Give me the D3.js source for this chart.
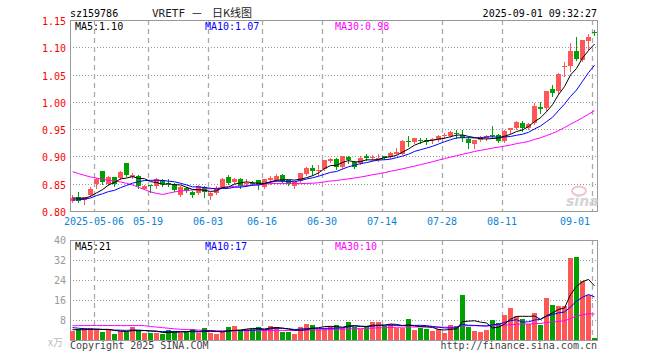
<!DOCTYPE html>
<html><head><meta charset="utf-8">
<script src="https://cdn.jsdelivr.net/npm/d3@7"></script>
<style>
body{margin:0;background:#fff}
svg{display:block}
text{font-family:"DejaVu Sans Mono",monospace;font-size:10px}
</style>
</head><body>
<svg id="c" width="660" height="360"></svg>
<script>
// ---------------- data ----------------
const dates = [
"2025-04-25","2025-04-28","2025-04-29","2025-04-30",
"2025-05-06","2025-05-07","2025-05-08","2025-05-09","2025-05-12","2025-05-13","2025-05-14","2025-05-15","2025-05-16",
"2025-05-19","2025-05-20","2025-05-21","2025-05-22","2025-05-23","2025-05-26","2025-05-27","2025-05-28","2025-05-29","2025-05-30",
"2025-06-03","2025-06-04","2025-06-05","2025-06-06","2025-06-09","2025-06-10","2025-06-11","2025-06-12","2025-06-13",
"2025-06-16","2025-06-17","2025-06-18","2025-06-19","2025-06-20","2025-06-23","2025-06-24","2025-06-25","2025-06-26","2025-06-27",
"2025-06-30","2025-07-01","2025-07-02","2025-07-03","2025-07-04","2025-07-07","2025-07-08","2025-07-09","2025-07-10","2025-07-11",
"2025-07-14","2025-07-15","2025-07-16","2025-07-17","2025-07-18","2025-07-21","2025-07-22","2025-07-23","2025-07-24","2025-07-25",
"2025-07-28","2025-07-29","2025-07-30","2025-07-31","2025-08-01","2025-08-04","2025-08-05","2025-08-06","2025-08-07","2025-08-08",
"2025-08-11","2025-08-12","2025-08-13","2025-08-14","2025-08-15","2025-08-18","2025-08-19","2025-08-20","2025-08-21","2025-08-22",
"2025-08-25","2025-08-26","2025-08-27","2025-08-28","2025-08-29","2025-09-01"];

const open = [0.819,0.825,0.820,0.830,0.850,0.874,0.850,0.862,0.860,0.888,0.863,0.865,0.841,0.847,0.846,0.857,0.852,0.850,0.830,0.843,0.835,0.833,0.844,0.827,0.833,0.843,0.862,0.853,0.859,0.850,0.852,0.856,0.844,0.857,0.857,0.866,0.856,0.846,0.855,0.868,0.878,0.873,0.877,0.891,0.896,0.881,0.899,0.890,0.888,0.900,0.897,0.896,0.900,0.899,0.905,0.905,0.929,0.926,0.930,0.930,0.930,0.930,0.937,0.937,0.943,0.939,0.932,0.923,0.931,0.933,0.940,0.940,0.928,0.948,0.953,0.962,0.952,0.961,0.990,0.988,1.023,1.019,1.063,1.065,1.093,1.077,1.111,1.128];
const high = [0.830,0.834,0.826,0.844,0.860,0.874,0.865,0.862,0.873,0.888,0.869,0.866,0.848,0.848,0.860,0.858,0.858,0.851,0.846,0.844,0.836,0.848,0.846,0.835,0.845,0.860,0.866,0.861,0.860,0.858,0.855,0.857,0.859,0.865,0.867,0.867,0.857,0.854,0.870,0.880,0.885,0.885,0.894,0.898,0.897,0.901,0.900,0.891,0.900,0.905,0.902,0.904,0.901,0.908,0.915,0.930,0.938,0.934,0.934,0.934,0.934,0.939,0.943,0.946,0.949,0.949,0.936,0.931,0.937,0.939,0.955,0.941,0.948,0.953,0.965,0.965,0.961,0.998,0.999,1.020,1.030,1.052,1.073,1.108,1.119,1.114,1.125,1.131];
const low = [0.817,0.816,0.813,0.828,0.843,0.850,0.848,0.845,0.858,0.865,0.860,0.843,0.840,0.835,0.843,0.846,0.846,0.836,0.828,0.834,0.826,0.831,0.826,0.822,0.831,0.842,0.850,0.851,0.842,0.846,0.848,0.841,0.842,0.850,0.855,0.853,0.848,0.842,0.853,0.866,0.866,0.866,0.875,0.889,0.877,0.879,0.888,0.878,0.886,0.894,0.893,0.891,0.896,0.898,0.904,0.904,0.920,0.924,0.924,0.923,0.925,0.929,0.933,0.935,0.934,0.928,0.916,0.915,0.928,0.931,0.933,0.926,0.926,0.943,0.951,0.946,0.950,0.960,0.980,0.983,1.010,1.015,1.047,1.056,1.076,1.074,1.096,1.122];
const close = [0.824,0.819,0.825,0.840,0.858,0.853,0.862,0.849,0.872,0.866,0.866,0.846,0.846,0.845,0.858,0.849,0.850,0.838,0.844,0.837,0.829,0.846,0.834,0.833,0.843,0.859,0.852,0.859,0.845,0.852,0.851,0.847,0.858,0.860,0.865,0.855,0.850,0.853,0.869,0.878,0.873,0.876,0.893,0.896,0.880,0.900,0.893,0.881,0.898,0.897,0.899,0.897,0.898,0.907,0.908,0.929,0.926,0.933,0.929,0.927,0.932,0.938,0.940,0.944,0.941,0.934,0.924,0.930,0.934,0.938,0.938,0.928,0.947,0.952,0.963,0.953,0.959,0.992,0.987,1.019,1.017,1.051,1.066,1.093,1.079,1.113,1.119,1.126];
const volume = [3.6,4.4,4.7,4.7,4.3,3.2,4.4,2.4,3.6,3.2,5.2,4.0,2.9,2.8,2.9,2.4,3.9,3.6,2.8,3.6,4.4,2.8,4.8,2.8,2.5,3.2,5.2,5.6,3.5,4.3,4.5,5.2,4.5,5.6,5.2,3.3,3.3,2.5,5.2,6.4,6.0,4.4,4.9,5.6,6.0,4.7,7.2,5.3,4.3,5.6,7.2,7.2,5.6,6.3,4.9,4.7,8.4,4.0,4.9,4.4,3.6,4.3,2.8,6.0,5.6,18.0,5.3,3.6,3.2,4.0,8.0,6.7,10.0,12.8,9.6,8.4,6.4,10.8,6.0,16.8,14.0,13.6,13.6,32.8,33.2,23.5,18.0,0.8];

// closes / volumes of the 29 sessions before the window (estimated, only used by the moving averages)
const priorCloses = [0.920,0.925,0.925,0.920,0.925,0.915,0.895,0.915,0.945,0.950,0.975,0.975,0.970,0.940,0.910,0.780,0.770,0.790,0.805,0.810,0.812,0.815,0.818,0.815,0.820,0.822,0.825,0.823,0.826];
const priorVolumes = [3.5,4.0,3.8,3.6,4.2,3.9,3.5,4.0,3.7,4.1,3.6,3.9,14,9,9,12,10,8,7,7,7,6.5,6,5,4.5,4.5,4.5,4,4];

const priceTicks = [0.80,0.85,0.90,0.95,1.00,1.05,1.10,1.15];
const volTicks = [8,16,24,32,40];
const axisDates = ["2025-05-06","2025-05-19","2025-06-03","2025-06-16","2025-06-30","2025-07-14","2025-07-28","2025-08-11","2025-09-01"];
const axisLabels = ["2025-05-06","05-19","06-03","06-16","06-30","07-14","07-28","08-11","09-01"];
const maPeriods = [5,10,30];
const priceLegend = ["MA5:1.10","MA10:1.07","MA30:0.98"];
const volLegend = ["MA5:21","MA10:17","MA30:10"];
const titleCode = "sz159786";
const titleName = "VRETF";
const titleDash = "—";
const titleKind = "日K线图";
const stamp = "2025-09-01 09:32:27";

// ---------------- styles ----------------
const RED = "#ff5656", GREEN = "#00a000";
const maColors = ["#000000","#0000ff","#ff00ff"];
const L = 70, R = 597;
const PT = 20, PB = 211, VT = 240, VB = 340;

const svg = d3.select("#c");
const n = dates.length;
const x = d3.scaleBand().domain(d3.range(n)).range([L, L + 6*n]).paddingInner(1/6).paddingOuter(1/12);
const bx = i => Math.floor(x(i));
const cx = i => bx(i) + 2.5;
const bw = Math.round(x.bandwidth());
const yP = d3.scaleLinear().domain([0.80,1.15]).range([PB,PT]);
const yV = d3.scaleLinear().domain([0,40]).range([VB,VT]);

function movingAvg(prior, vals, p){
  const all = prior.concat(vals), off = prior.length;
  return vals.map((v,i)=>d3.mean(all.slice(off+i-p+1, off+i+1)));
}

const g = svg.append("g");

// horizontal dotted grid
g.selectAll(".hp").data(priceTicks.slice(1,-1)).join("line")
  .attr("x1",L).attr("x2",R).attr("y1",d=>Math.round(yP(d))+0.5).attr("y2",d=>Math.round(yP(d))+0.5)
  .attr("stroke","#999").attr("stroke-dasharray","1,2");
g.selectAll(".hv").data(volTicks.slice(0,-1)).join("line")
  .attr("x1",L).attr("x2",R).attr("y1",d=>Math.round(yV(d))+0.5).attr("y2",d=>Math.round(yV(d))+0.5)
  .attr("stroke","#999").attr("stroke-dasharray","1,2");

// vertical dashed grid
const axisIdx = axisDates.map(d=>dates.indexOf(d));
[[PT,PB],[VT,VB]].forEach(([t,b])=>{
  g.append("g").selectAll("line").data(axisIdx).join("line")
    .attr("x1",i=>bx(i)+0.5).attr("x2",i=>bx(i)+0.5).attr("y1",t).attr("y2",b)
    .attr("stroke","#aaa").attr("stroke-width",1.3).attr("stroke-dasharray","5,4");
});

// frames
[[PT,PB],[VT,VB]].forEach(([t,b])=>{
  g.append("rect").attr("x",L+0.5).attr("y",t+0.5).attr("width",R-L).attr("height",b-t)
    .attr("fill","none").attr("stroke","#999");
});

// volume bars
g.append("g").selectAll("rect").data(volume).join("rect")
  .attr("x",(d,i)=>bx(i)).attr("width",bw)
  .attr("y",d=>Math.round(yV(d))).attr("height",d=>VB-Math.round(yV(d)))
  .attr("fill",(d,i)=>close[i]>=open[i]?RED:GREEN);

// candles
const cg = g.append("g");
cg.selectAll("line").data(d3.range(n)).join("line")
  .attr("x1",cx).attr("x2",cx)
  .attr("y1",i=>Math.round(yP(high[i]))).attr("y2",i=>Math.round(yP(low[i]))+1)
  .attr("stroke",i=>close[i]>=open[i]?RED:GREEN);
cg.selectAll("rect").data(d3.range(n)).join("rect")
  .attr("x",bx).attr("width",bw)
  .attr("y",i=>Math.round(yP(Math.max(open[i],close[i]))))
  .attr("height",i=>Math.max(1,Math.round(yP(Math.min(open[i],close[i])))-Math.round(yP(Math.max(open[i],close[i])))))
  .attr("fill",i=>close[i]>=open[i]?RED:GREEN);

// moving averages
maPeriods.slice().reverse().forEach((p,k)=>{
  const idx = maPeriods.length-1-k;
  const mp = movingAvg(priorCloses, close, p);
  const mv = movingAvg(priorVolumes, volume, p);
  g.append("path").datum(mp).attr("fill","none").attr("stroke",maColors[idx]).attr("stroke-width",1)
    .attr("d",d3.line().x((d,i)=>cx(i)).y(d=>yP(d)));
  g.append("path").datum(mv).attr("fill","none").attr("stroke",maColors[idx]).attr("stroke-width",1)
    .attr("d",d3.line().x((d,i)=>cx(i)).y(d=>yV(d)));
});

// y labels
g.selectAll(".pl").data(priceTicks).join("text")
  .attr("x",66).attr("y",d=>Math.round(yP(d))+4.5).attr("text-anchor","end")
  .attr("fill","#ff0000").text(d=>d.toFixed(2));
g.selectAll(".vl").data(volTicks).join("text")
  .attr("x",66).attr("y",d=>Math.round(yV(d))+3.5).attr("text-anchor","end")
  .attr("fill","#999").text(d=>d);
g.append("text").attr("x",63).attr("y",346).attr("text-anchor","end").attr("fill","#bbb")
  .style("font-family","'Noto Sans CJK SC',sans-serif").text("x万");

// x labels
g.selectAll(".xl").data(axisIdx).join("text")
  .attr("x",(i,k)=>{const w=axisLabels[k].length*6;const c=bx(i);return Math.min(c, 590-w/2);})
  .attr("y",225).attr("text-anchor","middle").attr("fill","#0a84d6")
  .text((i,k)=>axisLabels[k]);

// legends
const legX = [75,205,335];
priceLegend.forEach((t,k)=>g.append("text").attr("x",legX[k]).attr("y",29.5).attr("fill",maColors[k]).text(t));
volLegend.forEach((t,k)=>g.append("text").attr("x",legX[k]).attr("y",250).attr("fill",maColors[k]).text(t));

// title
g.append("text").attr("x",70).attr("y",16.5).attr("fill","#000").text(titleCode);
g.append("text").attr("x",152).attr("y",16.5).attr("fill","#222").style("font-size","11px").text(titleName);
g.append("text").attr("x",192).attr("y",16.5).attr("fill","#222").style("font-family","'Noto Sans CJK SC',sans-serif").style("font-size","11px").text(titleDash);
g.append("text").attr("x",212).attr("y",16.5).attr("fill","#222").style("font-family","'Noto Sans CJK SC',sans-serif").style("font-size","11px").text(titleKind);
g.append("text").attr("x",597).attr("y",16.5).attr("text-anchor","end").attr("fill","#000").text(stamp);

// footer
g.append("text").attr("x",70).attr("y",349).attr("fill","#444").text("Copyright 2025 SINA.COM");
g.append("text").attr("x",597).attr("y",349).attr("text-anchor","end").attr("fill","#444").text("http://finance.sina.com.cn");

// watermark
g.append("ellipse").attr("cx",579).attr("cy",191).attr("rx",7).attr("ry",4.5).attr("fill","none").attr("stroke","#f2c4c4").attr("stroke-width",2);
g.append("text").attr("x",566).attr("y",206).attr("fill","#d4d4d4")
  .style("font-family","'DejaVu Sans',sans-serif").style("font-size","14px").style("font-style","italic").style("font-weight","bold").text("sina");
</script>
</body></html>
